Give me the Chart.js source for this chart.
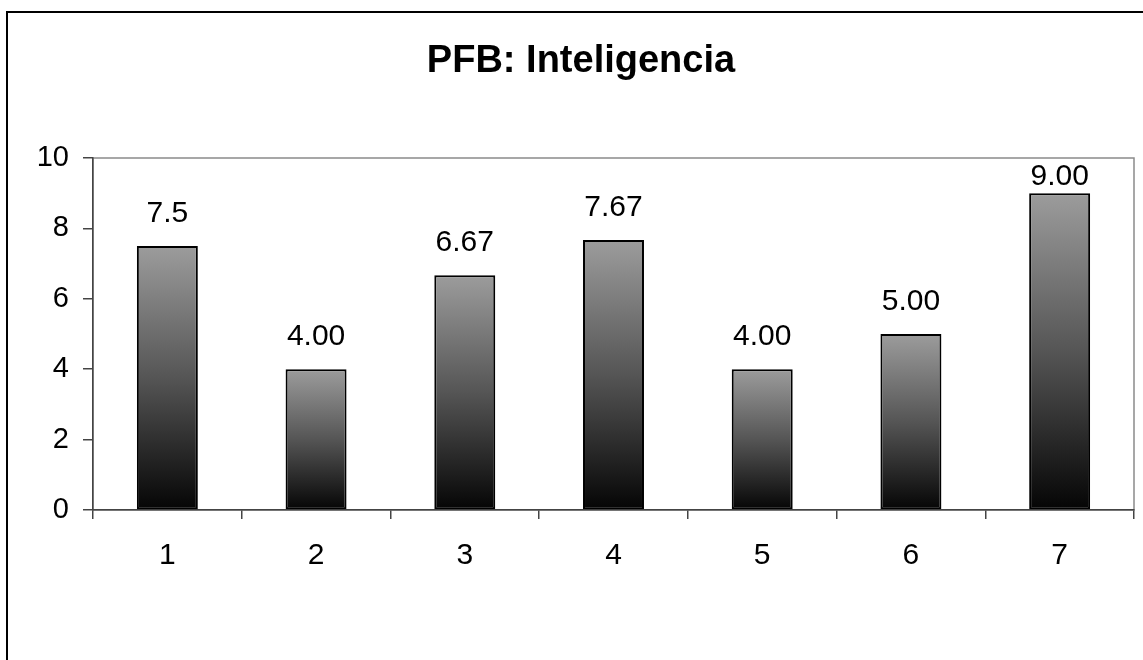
<!DOCTYPE html>
<html>
<head>
<meta charset="utf-8">
<title>PFB: Inteligencia</title>
<script src="https://cdn.jsdelivr.net/npm/chart.js@4/dist/chart.umd.min.js"></script>
<style>
  html, body { margin: 0; padding: 0; background: #fff; }
  canvas { display: block; }
</style>
</head>
<body>
<canvas id="chart" width="1143" height="660"></canvas>
<script>
// Categories, scores and the text printed above each bar
const chartTitle = 'PFB: Inteligencia';
const categories = ['1', '2', '3', '4', '5', '6', '7'];
const scores = [7.5, 4.00, 6.67, 7.67, 4.00, 5.00, 9.00];
const scoreLabels = ['7.5', '4.00', '6.67', '7.67', '4.00', '5.00', '9.00'];
const yTicks = [0, 2, 4, 6, 8, 10];

const FONT = '"Liberation Sans", Arial, Helvetica, sans-serif';

// Vertical grey-to-black fill, spanning each bar from its top to the baseline
function barFill(ctx) {
  const chart = ctx.chart;
  if (!chart.chartArea || ctx.dataIndex === undefined) return '#666';
  const ys = chart.scales.y;
  const top = ys.getPixelForValue(scores[ctx.dataIndex]);
  const base = ys.getPixelForValue(0);
  const g = chart.ctx.createLinearGradient(0, top, 0, base);
  g.addColorStop(0, '#9c9c9c');
  g.addColorStop(0.5, '#555555');
  g.addColorStop(1, '#050505');
  return g;
}

// Outer frame, the light plot-area box and the heading
const framePlugin = {
  id: 'frame',
  beforeDraw(chart) {
    const { ctx, chartArea: a } = chart;
    ctx.save();
    ctx.fillStyle = '#fff';
    ctx.fillRect(0, 0, chart.width, chart.height);
    ctx.strokeStyle = '#000';
    ctx.lineWidth = 2;
    ctx.strokeRect(7, 12, chart.width + 20, chart.height + 20);
    ctx.strokeStyle = '#8a8a8a';
    ctx.lineWidth = 1.5;
    ctx.strokeRect(a.left, a.top, a.right - a.left, a.bottom - a.top);
    ctx.fillStyle = '#000';
    ctx.font = 'bold 38px ' + FONT;
    ctx.textAlign = 'center';
    ctx.textBaseline = 'alphabetic';
    ctx.fillText(chartTitle, 581, 72);
    ctx.restore();
  }
};

// Value text above each bar, kept inside the plot area
const valueLabels = {
  id: 'valueLabels',
  afterDatasetsDraw(chart) {
    const { ctx, chartArea } = chart;
    const meta = chart.getDatasetMeta(0);
    ctx.save();
    ctx.font = '30px ' + FONT;
    ctx.fillStyle = '#000';
    ctx.textAlign = 'center';
    ctx.textBaseline = 'alphabetic';
    meta.data.forEach((bar, i) => {
      const y = Math.max(bar.y - 24, chartArea.top + 27);
      ctx.fillText(scoreLabels[i], bar.x, y);
    });
    ctx.restore();
  }
};

new Chart(document.getElementById('chart'), {
  type: 'bar',
  data: {
    labels: categories,
    datasets: [{
      data: scores,
      backgroundColor: barFill,
      borderColor: '#000',
      borderWidth: 2,
      borderSkipped: false,
      barPercentage: 0.41,
      categoryPercentage: 1.0
    }]
  },
  options: {
    responsive: false,
    animation: false,
    devicePixelRatio: 1,
    layout: { padding: { left: 0, right: 9, top: 158, bottom: 0 } },
    plugins: {
      legend: { display: false },
      tooltip: { enabled: false },
      title: { display: false }
    },
    scales: {
      x: {
        grid: {
          offset: true,
          drawOnChartArea: false,
          drawTicks: true,
          tickLength: 9,
          color: '#444',
          lineWidth: 1.5
        },
        border: { display: true, color: '#444', width: 1.5 },
        ticks: {
          color: '#000',
          padding: 19,
          font: { family: FONT, size: 30 }
        },
        afterFit(scale) { scale.height = 150; }
      },
      y: {
        min: 0,
        max: 10,
        afterBuildTicks(scale) { scale.ticks = yTicks.map(v => ({ value: v })); },
        grid: {
          drawOnChartArea: false,
          drawTicks: true,
          tickLength: 10,
          color: '#444',
          lineWidth: 1.5
        },
        border: { display: true, color: '#444', width: 1.5 },
        ticks: {
          color: '#000',
          padding: 14,
          font: { family: FONT, size: 29 }
        },
        afterFit(scale) { scale.width = 93; }
      }
    }
  },
  plugins: [framePlugin, valueLabels]
});
</script>
</body>
</html>
